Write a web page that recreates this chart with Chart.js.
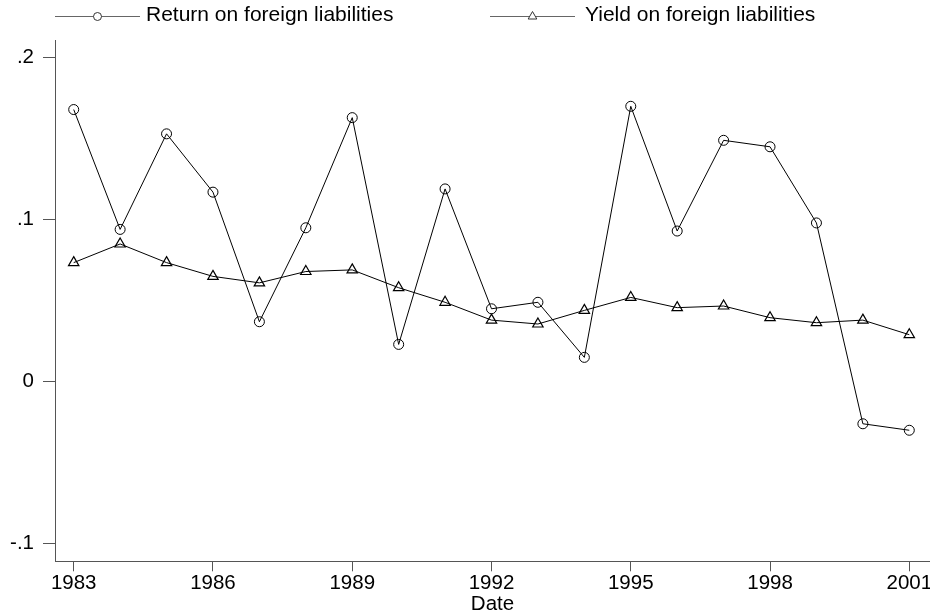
<!DOCTYPE html>
<html>
<head>
<meta charset="utf-8">
<script src="https://cdn.jsdelivr.net/npm/chart.js@4"></script>
<style>
  html, body { margin: 0; padding: 0; background: #fff; }
  #wrap { width: 930px; height: 615px; }
</style>
</head>
<body>
<div id="wrap"><canvas id="c" width="930" height="615"></canvas></div>
<script>
const years = [1983,1984,1985,1986,1987,1988,1989,1990,1991,1992,1993,1994,1995,1996,1997,1998,1999,2000,2001];
const returnOnLiabilities = [0.168,0.094,0.153,0.117,0.037,0.095,0.163,0.023,0.119,0.045,0.049,0.015,0.170,0.093,0.149,0.145,0.098,-0.026,-0.030];
const yieldOnLiabilities = [0.0735,0.085,0.0735,0.065,0.061,0.068,0.069,0.058,0.049,0.038,0.0356,0.044,0.052,0.0457,0.0467,0.0395,0.0364,0.038,0.029];
const xTicks = [1983,1986,1989,1992,1995,1998,2001];
const yTicks = [-0.1,0,0.1,0.2];
const seriesNames = ['Return on foreign liabilities','Yield on foreign liabilities'];

const FONT = '"Liberation Sans", Arial, Helvetica, sans-serif';

function fmtY(v){
  if (Math.abs(v) < 1e-9) return '0';
  let s = String(Math.round(v*10)/10);
  return s.replace(/^(-?)0\./, '$1.');
}

const legendPlugin = {
  id: 'stataLegend',
  afterDraw(chart){
    const ctx = chart.ctx;
    const items = [
      {x0: 55, x1: 140, tx: 146, style: 'circle', text: seriesNames[0]},
      {x0: 490, x1: 575, tx: 585, style: 'triangle', text: seriesNames[1]}
    ];
    const ly = 16.5;
    ctx.save();
    items.forEach(it => {
      ctx.strokeStyle = '#666';
      ctx.lineWidth = 1;
      ctx.beginPath();
      ctx.moveTo(it.x0, ly);
      ctx.lineTo(it.x1, ly);
      ctx.stroke();
      const cx = (it.x0 + it.x1)/2;
      ctx.fillStyle = '#fff';
      ctx.strokeStyle = '#333';
      ctx.beginPath();
      if (it.style === 'circle') {
        ctx.arc(cx, ly, 4, 0, Math.PI*2);
      } else {
        const r = 5;
        ctx.moveTo(cx, ly - r);
        ctx.lineTo(cx + r*0.866, ly + r*0.5);
        ctx.lineTo(cx - r*0.866, ly + r*0.5);
        ctx.closePath();
      }
      ctx.fill();
      ctx.stroke();
      ctx.fillStyle = '#000';
      ctx.font = '21px ' + FONT;
      ctx.textAlign = 'left';
      ctx.textBaseline = 'alphabetic';
      ctx.fillText(it.text, it.tx, 21);
    });
    ctx.restore();
  }
};

const toPts = (arr) => years.map((y,i) => ({x: y, y: arr[i]}));

new Chart(document.getElementById('c'), {
  type: 'line',
  data: {
    datasets: [
      {
        label: seriesNames[0],
        data: toPts(returnOnLiabilities),
        borderColor: '#000',
        borderWidth: 1,
        pointStyle: 'circle',
        pointRadius: 5,
        pointBorderWidth: 1,
        pointBorderColor: '#000',
        pointBackgroundColor: 'rgba(0,0,0,0)',
        tension: 0,
        fill: false,
        clip: false
      },
      {
        label: seriesNames[1],
        data: toPts(yieldOnLiabilities),
        borderColor: '#000',
        borderWidth: 1,
        pointStyle: 'triangle',
        pointRadius: 6,
        pointBorderWidth: 1.2,
        pointBorderColor: '#000',
        pointBackgroundColor: 'rgba(0,0,0,0)',
        tension: 0,
        fill: false,
        clip: false
      }
    ]
  },
  options: {
    responsive: false,
    animation: false,
    devicePixelRatio: 1,
    layout: { autoPadding: false, padding: { top: 40.7, right: 0, bottom: 0, left: 0 } },
    plugins: { legend: { display: false }, tooltip: { enabled: false }, title: { display: false } },
    scales: {
      x: {
        type: 'linear',
        min: 1982.597,
        max: 2001.446,
        border: { display: true, color: '#555', width: 1 },
        grid: { drawOnChartArea: false, drawTicks: true, tickLength: 10, color: '#555' },
        ticks: { padding: 0, color: '#000', font: { family: FONT, size: 20.5 }, maxRotation: 0, autoSkip: false, callback: v => String(v) },
        afterBuildTicks: (s) => { s.ticks = xTicks.map(v => ({value: v})); },
        afterFit: (s) => {
          s.height = 53.7; s.paddingLeft = 0; s.paddingRight = 0;
          if (s._margins) { s._margins.left = 0; s._margins.right = 0; }
        },
        title: { display: true, text: 'Date', color: '#000', font: { family: FONT, size: 20.5, lineHeight: 1 }, padding: { top: 0, bottom: 0 } }
      },
      y: {
        type: 'linear',
        min: -0.1109,
        max: 0.2105,
        border: { display: true, color: '#555', width: 1 },
        grid: { drawOnChartArea: false, drawTicks: true, tickLength: 12, color: '#555' },
        ticks: { padding: 9, color: '#000', font: { family: FONT, size: 20.5 }, callback: v => fmtY(v) },
        afterBuildTicks: (s) => { s.ticks = yTicks.map(v => ({value: v})); },
        afterFit: (s) => {
          s.width = 55; s.paddingTop = 0; s.paddingBottom = 0;
          if (s._margins) { s._margins.top = 0; s._margins.bottom = 0; }
        }
      }
    }
  },
  plugins: [legendPlugin]
});
</script>
</body>
</html>
